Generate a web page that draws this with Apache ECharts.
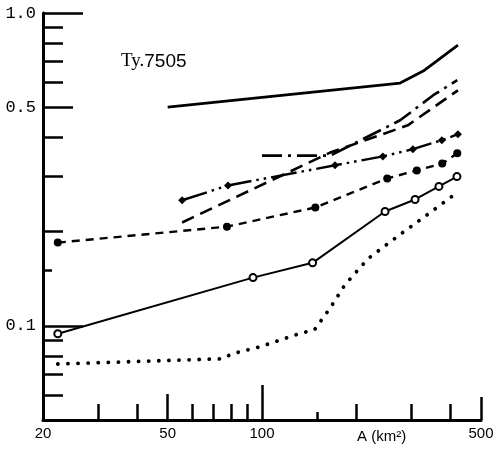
<!DOCTYPE html>
<html>
<head>
<meta charset="utf-8">
<script src="https://cdn.jsdelivr.net/npm/echarts@6/dist/echarts.min.js"></script>
<style>html,body{margin:0;padding:0;background:#fff}#c{width:503px;height:451px}</style>
</head>
<body>
<div id="c"></div>
<script>
// ---- data (A in km², ratio on log axis) ----
const titleSerif = 'Ty.';
const titleSans = '7505';
const xName = 'A (km²)';
const xLabelValues = [20, 50, 100, 500];
const xTicksShort = [30, 40, 60, 70, 80, 90, 200, 300, 400];
const xTicksMid = [50];
const xTicksLong = [100];
const xTicksEnd = [500];
const xTicksTiny = [150];
const yLabelValues = [1.0, 0.5, 0.1];
const yTicksShort = [0.9, 0.8, 0.7, 0.6, 0.4, 0.3, 0.2, 0.09, 0.08, 0.07, 0.06];
const yTicksMid = [0.5];
const yTicksLong = [1.0, 0.1];
const yTicksTiny = [0.15];

const solidTopA = [50, 276, 327, 422];
const solidTopR = [0.50, 0.597, 0.652, 0.79];
const dashDotA = [100, 165, 276, 352, 420];
const dashDotR = [0.35, 0.35, 0.454, 0.546, 0.61];
const longDashA = [55.6, 165, 292, 422];
const longDashR = [0.214, 0.358, 0.4375, 0.566];
const starA = [55.6, 77.9, 171, 243, 303, 375, 422];
const starR = [0.252, 0.281, 0.326, 0.348, 0.367, 0.392, 0.41];
const filledA = [22.3, 77.3, 148, 251, 312, 376, 420];
const filledR = [0.1845, 0.2075, 0.239, 0.296, 0.314, 0.33, 0.356];
const openA = [22.3, 93.6, 145, 247, 308, 367, 419];
const openR = [0.0943, 0.1426, 0.159, 0.232, 0.2535, 0.279, 0.300];
const dottedA = [22.3, 75, 80, 98.6, 131, 147, 165, 184, 218, 276, 341, 416];
const dottedR = [0.0755, 0.0785, 0.0813, 0.0857, 0.0943, 0.0971, 0.114, 0.1353, 0.164, 0.196, 0.2286, 0.265];

const zip = (a, b) => a.map((v, i) => [v, b[i]]);
const BLACK = '#000';

function xAx(ticks, len, main) {
  return {
    type: 'log', logBase: 10, min: 20, max: 500, gridIndex: 0, position: 'bottom', offset: 0,
    axisLine: { show: !!main, onZero: false, lineStyle: { color: BLACK, width: 3 } },
    axisTick: { show: true, inside: true, length: len, customValues: ticks, lineStyle: { color: BLACK, width: 2.5 } },
    axisLabel: main ? { show: true, customValues: xLabelValues, color: BLACK, fontSize: 15,
      fontFamily: 'Liberation Sans', margin: 6, formatter: v => String(Math.round(v)) } : { show: false },
    splitLine: { show: false }, minorTick: { show: false }
  };
}
function yAx(ticks, len, main) {
  return {
    type: 'log', logBase: 10, min: 0.05, max: 1.0, gridIndex: 0, position: 'left', offset: 0,
    axisLine: { show: !!main, onZero: false, lineStyle: { color: BLACK, width: 3 } },
    axisTick: { show: true, inside: true, length: len, customValues: ticks, lineStyle: { color: BLACK, width: 2.5 } },
    axisLabel: main ? { show: true, customValues: yLabelValues, color: BLACK, fontSize: 17,
      fontFamily: 'Liberation Mono', margin: 7, formatter: v => Number(v).toFixed(1) } : { show: false },
    splitLine: { show: false }, minorTick: { show: false }
  };
}

const chart = echarts.init(document.getElementById('c'), null, { renderer: 'canvas' });
chart.setOption({
  animation: false,
  backgroundColor: '#fff',
  title: {
    text: '{a|' + titleSerif + '}{b|' + titleSans + '}', left: 116, top: 47,
    textStyle: { fontWeight: 'normal', rich: {
      a: { fontFamily: 'Liberation Serif', fontSize: 19, fontWeight: 'normal', color: BLACK },
      b: { fontFamily: 'Liberation Sans', fontSize: 19, fontWeight: 'normal', color: BLACK }
    } }
  },
  grid: { left: 43, right: 22, top: 13, bottom: 31, containLabel: false },
  xAxis: [xAx(xTicksShort, 16, true), xAx(xTicksMid, 26), xAx(xTicksLong, 35), xAx(xTicksEnd, 23), xAx(xTicksTiny, 8)],
  yAxis: [yAx(yTicksShort, 20, true), yAx(yTicksMid, 30), yAx(yTicksLong, 40), yAx(yTicksTiny, 9)],
  graphic: [{ type: 'text', left: 357, top: 429, style: { text: xName, font: '15px "Liberation Sans"', fill: BLACK } }],
  series: [
    { type: 'line', data: zip(solidTopA, solidTopR), showSymbol: false, symbol: 'none',
      lineStyle: { color: BLACK, width: 2.8 } },
    { type: 'line', data: zip(dashDotA, dashDotR), symbol: 'none',
      lineStyle: { color: BLACK, width: 2.6, type: [20, 6, 3, 6] } },
    { type: 'line', data: zip(longDashA, longDashR), symbol: 'none',
      lineStyle: { color: BLACK, width: 2.6, type: [13, 7] } },
    { type: 'line', data: zip(starA, starR), symbol: 'diamond', symbolSize: 8,
      itemStyle: { color: BLACK },
      lineStyle: { color: BLACK, width: 2.4, type: [26, 5, 2.5, 5, 2.5, 5] } },
    { type: 'line', data: zip(filledA, filledR), symbol: 'circle', symbolSize: 8,
      itemStyle: { color: BLACK },
      lineStyle: { color: BLACK, width: 2.4, type: [8, 6] } },
    { type: 'line', data: zip(openA, openR), symbol: 'circle', symbolSize: 7,
      itemStyle: { color: '#fff', borderColor: BLACK, borderWidth: 2 },
      lineStyle: { color: BLACK, width: 2 } },
    { type: 'line', data: zip(dottedA, dottedR), symbol: 'none',
      lineStyle: { color: BLACK, width: 3.8, type: [0.1, 10], cap: 'round' } }
  ]
});
</script>
</body>
</html>
